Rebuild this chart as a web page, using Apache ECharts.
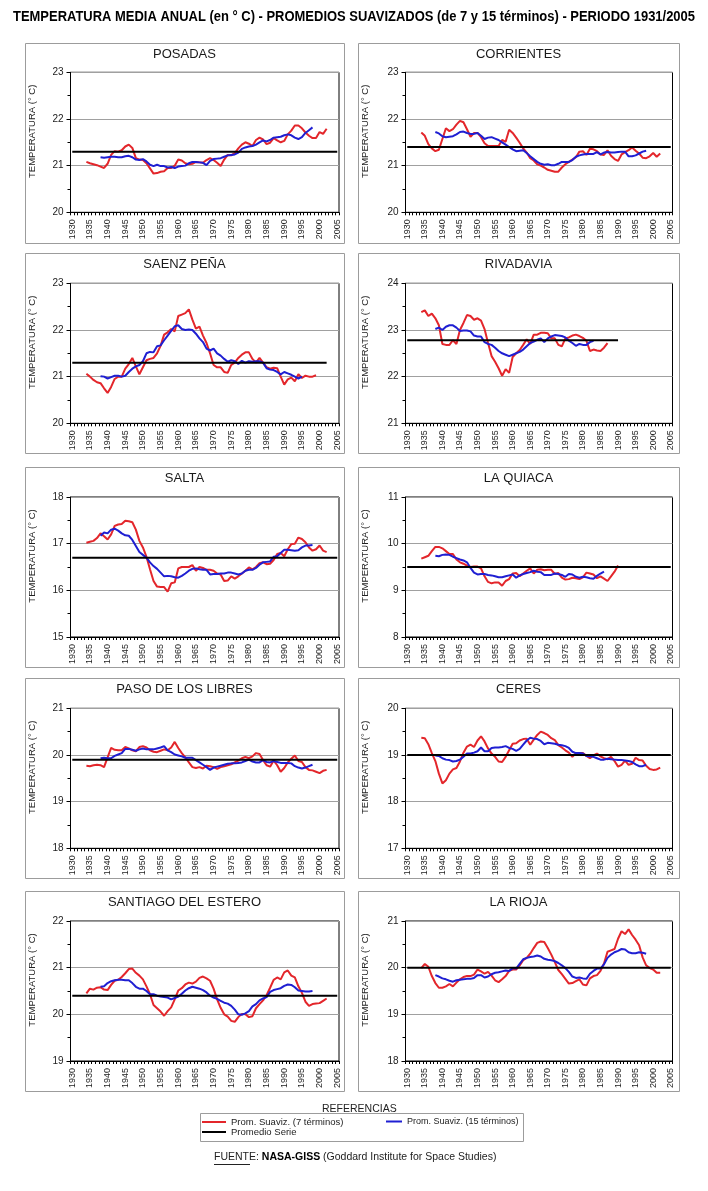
<!DOCTYPE html>
<html><head><meta charset="utf-8">
<script src="https://cdn.jsdelivr.net/npm/echarts@6/dist/echarts.min.js"></script>
<style>html,body{margin:0;padding:0;background:#fff}#c{width:708px;height:1191px}</style>
</head><body><div id="c"></div>
<script>
const years = ['1930','1931','1932','1933','1934','1935','1936','1937','1938','1939','1940','1941','1942','1943','1944','1945','1946','1947','1948','1949','1950','1951','1952','1953','1954','1955','1956','1957','1958','1959','1960','1961','1962','1963','1964','1965','1966','1967','1968','1969','1970','1971','1972','1973','1974','1975','1976','1977','1978','1979','1980','1981','1982','1983','1984','1985','1986','1987','1988','1989','1990','1991','1992','1993','1994','1995','1996','1997','1998','1999','2000','2001','2002','2003','2004','2005'];
const stationNames = ['POSADAS','CORRIENTES','SAENZ PEÑA','RIVADAVIA','SALTA','LA QUIACA','PASO DE LOS LIBRES','CERES','SANTIAGO DEL ESTERO','LA RIOJA'];
const yMin = [20,20,20,21,15,8,18,17,19,18];
const yMax = [23,23,23,24,18,11,21,20,22,21];
const seriesMean = [21.3,21.4,21.3,22.78,16.7,9.5,19.9,19.0,20.4,20.0];
const meanFirstYear = 1930;
const meanLastYear = [2005,2005,2002,1990,2005,2005,2005,2005,2005,2005];
const first7 = 1934, first15 = 1938;
const seriesNames = ['Prom. Suaviz. (7 términos)','Prom. Suaviz. (15 términos)','Promedio Serie'];
const mainTitle = 'TEMPERATURA MEDIA ANUAL (en ° C) - PROMEDIOS SUAVIZADOS (de 7 y 15 términos) - PERIODO 1931/2005';

const posadas7 = [21.08,21.05,21.03,21.01,20.98,20.95,21.04,21.23,21.31,21.30, 21.33,21.41,21.45,21.38,21.16,21.13,21.12,21.05,20.94,20.83, 20.84,20.87,20.88,20.95,20.95,21.00,21.13,21.11,21.05,21.03, 21.04,21.08,21.07,21.06,21.12,21.16,21.12,21.06,20.99,21.13, 21.23,21.22,21.27,21.37,21.45,21.50,21.47,21.42,21.55,21.60, 21.56,21.46,21.49,21.59,21.54,21.50,21.53,21.67,21.75,21.86, 21.86,21.80,21.71,21.64,21.59,21.59,21.72,21.68,21.79];
const posadas15 = [21.18,21.17,21.18,21.19,21.19,21.18,21.18,21.20,21.21,21.18, 21.13,21.12,21.14,21.09,21.02,20.99,21.02,20.99,20.99,20.96, 20.97,20.95,20.98,20.99,21.00,21.05,21.08,21.08,21.07,21.06, 21.01,21.10,21.14,21.15,21.16,21.19,21.22,21.23,21.24,21.28, 21.36,21.39,21.41,21.42,21.45,21.50,21.54,21.52,21.55,21.60, 21.61,21.62,21.65,21.67,21.65,21.60,21.57,21.61,21.70,21.76, 21.82];

const corrientes7 = [21.71,21.64,21.46,21.37,21.31,21.34,21.57,21.80,21.74,21.78, 21.88,21.96,21.93,21.78,21.62,21.70,21.70,21.61,21.48,21.42, 21.42,21.42,21.42,21.55,21.51,21.77,21.70,21.60,21.49,21.37, 21.28,21.16,21.11,21.03,21.00,20.96,20.91,20.89,20.87,20.87, 20.96,21.03,21.08,21.13,21.18,21.30,21.31,21.23,21.36,21.35, 21.31,21.24,21.23,21.33,21.21,21.14,21.10,21.24,21.29,21.33, 21.39,21.32,21.26,21.17,21.16,21.20,21.27,21.19,21.26];
const corrientes15 = [21.72,21.69,21.63,21.61,21.62,21.63,21.67,21.72,21.73,21.70, 21.68,21.68,21.70,21.64,21.57,21.60,21.61,21.58,21.55,21.50, 21.45,21.40,21.35,21.31,21.32,21.33,21.27,21.20,21.14,21.08, 21.04,21.02,21.03,21.01,21.01,21.04,21.08,21.08,21.08,21.12, 21.19,21.22,21.24,21.25,21.25,21.25,21.29,21.24,21.28,21.29, 21.28,21.28,21.29,21.30,21.30,21.20,21.20,21.22,21.26,21.30, 21.32];

const saenz7 = [21.06,21.00,20.93,20.88,20.86,20.75,20.65,20.78,20.95,21.00, 21.00,21.17,21.27,21.40,21.22,21.05,21.20,21.35,21.38,21.40, 21.50,21.66,21.90,21.95,22.02,21.97,22.30,22.33,22.36,22.44, 22.22,22.03,22.07,21.88,21.72,21.50,21.25,21.20,21.20,21.10, 21.08,21.25,21.30,21.40,21.47,21.52,21.52,21.38,21.30,21.40, 21.30,21.20,21.17,21.19,21.18,21.00,20.83,20.94,20.98,20.90, 21.05,20.97,21.02,21.00,21.00,21.03];
const saenz15 = [21.01,21.00,20.96,20.99,21.02,21.02,21.00,21.02,21.10,21.17, 21.22,21.25,21.33,21.50,21.53,21.52,21.65,21.67,21.78,21.88, 21.98,22.08,22.10,22.02,22.00,22.01,22.00,21.92,21.82,21.74, 21.60,21.56,21.60,21.50,21.45,21.38,21.32,21.35,21.33,21.27, 21.34,21.30,21.33,21.32,21.33,21.33,21.30,21.18,21.15,21.14, 21.10,21.05,21.10,21.07,21.04,21.00,20.96,21.00];

const rivadavia7 = [23.38,23.42,23.30,23.35,23.25,23.10,22.70,22.68,22.68,22.78, 22.70,23.00,23.15,23.32,23.30,23.22,23.25,23.20,23.02,22.72, 22.44,22.32,22.18,22.02,22.16,22.08,22.42,22.50,22.57,22.68, 22.80,22.70,22.90,22.90,22.94,22.94,22.93,22.82,22.82,22.68, 22.65,22.82,22.84,22.88,22.90,22.87,22.83,22.77,22.55,22.58, 22.56,22.55,22.62,22.72];
const rivadavia15 = [23.02,23.05,23.00,23.07,23.10,23.10,23.05,22.98,22.99,22.99, 22.97,22.88,22.86,22.86,22.74,22.70,22.68,22.62,22.55,22.50, 22.47,22.44,22.47,22.50,22.53,22.58,22.65,22.72,22.75,22.79, 22.82,22.74,22.82,22.86,22.89,22.88,22.87,22.84,22.77,22.72, 22.66,22.70,22.68,22.68,22.74,22.77];

const salta7 = [17.02,17.04,17.06,17.12,17.22,17.16,17.09,17.20,17.38,17.41, 17.42,17.49,17.48,17.46,17.30,17.06,16.92,16.72,16.45,16.20, 16.08,16.07,16.07,15.97,16.15,16.17,16.47,16.50,16.50,16.50, 16.54,16.42,16.50,16.48,16.44,16.44,16.42,16.36,16.34,16.20, 16.21,16.30,16.25,16.30,16.36,16.42,16.49,16.45,16.50,16.58, 16.60,16.56,16.57,16.65,16.78,16.80,16.73,16.88,16.99,17.00, 17.13,17.10,17.03,16.92,16.85,16.88,16.96,16.85,16.82];
const salta15 = [17.17,17.24,17.22,17.30,17.32,17.28,17.22,17.18,17.17,17.08, 16.95,16.82,16.76,16.70,16.60,16.52,16.46,16.38,16.30,16.31, 16.30,16.28,16.27,16.31,16.36,16.42,16.46,16.47,16.45,16.44, 16.44,16.34,16.35,16.35,16.36,16.36,16.38,16.38,16.36,16.34, 16.36,16.42,16.44,16.44,16.48,16.55,16.60,16.61,16.62,16.72, 16.73,16.80,16.87,16.87,16.86,16.85,16.86,16.92,16.96,16.96, 16.97];

const quiaca7 = [9.68,9.71,9.74,9.84,9.93,9.93,9.90,9.84,9.78,9.78, 9.66,9.60,9.57,9.53,9.50,9.51,9.51,9.47,9.30,9.18, 9.15,9.17,9.17,9.10,9.20,9.24,9.36,9.37,9.30,9.36, 9.42,9.47,9.36,9.44,9.45,9.43,9.44,9.44,9.35,9.37, 9.27,9.23,9.24,9.27,9.26,9.24,9.28,9.38,9.36,9.34, 9.26,9.30,9.25,9.20,9.30,9.40,9.53];
const quiaca15 = [9.74,9.73,9.76,9.77,9.76,9.72,9.69,9.66,9.64,9.60, 9.48,9.38,9.34,9.35,9.35,9.33,9.32,9.30,9.28,9.28, 9.30,9.32,9.34,9.27,9.32,9.35,9.37,9.39,9.42,9.40, 9.39,9.33,9.33,9.33,9.36,9.35,9.33,9.29,9.35,9.34, 9.29,9.27,9.29,9.28,9.26,9.25,9.31,9.36,9.40];

const paso7 = [19.77,19.76,19.78,19.79,19.78,19.74,19.95,20.15,20.11,20.10, 20.10,20.17,20.14,20.10,20.08,20.17,20.19,20.16,20.10,20.07, 20.06,20.09,20.12,20.10,20.16,20.28,20.15,20.04,19.95,19.84, 19.74,19.72,19.74,19.71,19.77,19.76,19.74,19.70,19.74,19.76, 19.78,19.80,19.84,19.88,19.93,19.96,19.93,19.97,20.04,20.02, 19.89,19.78,19.75,19.88,19.78,19.64,19.72,19.84,19.92,19.99, 19.87,19.85,19.74,19.68,19.67,19.64,19.61,19.66,19.68];
const paso15 = [19.93,19.94,19.93,19.93,19.98,20.01,20.04,20.13,20.13,20.11, 20.09,20.12,20.14,20.12,20.12,20.12,20.14,20.16,20.19,20.10, 20.06,20.01,19.99,19.97,19.94,19.94,19.94,19.89,19.84,19.79, 19.74,19.68,19.73,19.75,19.77,19.79,19.81,19.82,19.82,19.83, 19.84,19.87,19.90,19.86,19.84,19.84,19.89,19.85,19.84,19.87, 19.85,19.83,19.83,19.83,19.82,19.76,19.73,19.71,19.73,19.76, 19.79];

const ceres7 = [19.37,19.36,19.23,19.04,18.87,18.60,18.39,18.46,18.60,18.69, 18.72,18.86,19.05,19.18,19.22,19.17,19.31,19.40,19.29,19.14, 19.03,18.96,18.86,18.85,18.96,19.10,19.24,19.25,19.31,19.34, 19.35,19.22,19.33,19.43,19.50,19.47,19.43,19.36,19.32,19.21, 19.16,19.10,19.05,18.96,19.04,19.04,19.04,18.98,18.93,18.99, 19.03,18.97,18.93,18.91,18.96,18.87,18.75,18.79,18.88,18.79, 18.81,18.94,18.89,18.88,18.77,18.70,18.68,18.69,18.73];
const ceres15 = [18.99,18.98,18.93,18.90,18.89,18.86,18.87,18.90,18.96,19.03, 19.03,19.05,19.08,19.16,19.08,19.08,19.15,19.16,19.16,19.17, 19.19,19.15,19.13,19.09,19.13,19.22,19.31,19.37,19.35,19.34, 19.30,19.23,19.26,19.25,19.24,19.22,19.21,19.19,19.15,19.07, 19.04,19.04,19.03,18.98,18.97,18.96,18.93,18.90,18.90,18.92, 18.91,18.90,18.89,18.89,18.88,18.87,18.85,18.80,18.76,18.76, 18.79];

const santiago7 = [20.45,20.55,20.53,20.57,20.58,20.53,20.52,20.63,20.72,20.74, 20.80,20.88,20.97,20.98,20.89,20.83,20.75,20.60,20.43,20.20, 20.13,20.06,19.97,20.07,20.15,20.32,20.51,20.56,20.64,20.68, 20.66,20.70,20.78,20.81,20.77,20.72,20.55,20.32,20.14,20.00, 19.95,19.86,19.84,19.94,20.01,20.00,19.94,19.96,20.13,20.22, 20.30,20.41,20.57,20.74,20.79,20.75,20.90,20.94,20.83,20.79, 20.60,20.46,20.27,20.18,20.22,20.23,20.24,20.29,20.34];
const santiago15 = [20.59,20.60,20.67,20.71,20.73,20.74,20.74,20.73,20.73,20.67, 20.59,20.55,20.55,20.50,20.43,20.43,20.40,20.38,20.37,20.36, 20.32,20.35,20.38,20.44,20.51,20.56,20.59,20.57,20.55,20.52, 20.47,20.40,20.36,20.33,20.29,20.25,20.23,20.18,20.10,20.00, 19.99,20.02,20.07,20.17,20.22,20.30,20.34,20.37,20.48,20.52, 20.54,20.56,20.61,20.64,20.63,20.58,20.51,20.50,20.49,20.49, 20.50];

const rioja7 = [19.99,20.08,20.02,19.82,19.67,19.57,19.57,19.60,19.65,19.60, 19.68,19.75,19.80,19.82,19.82,19.85,19.96,19.92,19.87,19.91, 19.83,19.73,19.69,19.75,19.82,19.93,19.96,19.96,20.05,20.16, 20.21,20.30,20.42,20.53,20.56,20.55,20.42,20.28,20.12,19.95, 19.86,19.76,19.66,19.67,19.71,19.75,19.64,19.62,19.77,19.82, 19.84,19.93,20.09,20.34,20.37,20.40,20.62,20.78,20.72,20.82, 20.70,20.60,20.48,20.22,20.05,19.99,19.96,19.89,19.89];
const rioja15 = [19.84,19.81,19.77,19.75,19.72,19.70,19.73,19.74,19.75,19.76, 19.76,19.78,19.84,19.84,19.79,19.81,19.86,19.89,19.90,19.92, 19.94,19.93,19.99,19.98,20.08,20.18,20.21,20.23,20.24,20.26, 20.24,20.19,20.17,20.16,20.14,20.10,20.05,19.99,19.91,19.81, 19.78,19.79,19.77,19.76,19.87,19.93,19.98,19.98,20.07,20.21, 20.28,20.33,20.36,20.40,20.39,20.33,20.31,20.31,20.33,20.32, 20.30];

const values7 = [posadas7,corrientes7,saenz7,rivadavia7,salta7,quiaca7,paso7,ceres7,santiago7,rioja7];
const values15 = [posadas15,corrientes15,saenz15,rivadavia15,salta15,quiaca15,paso15,ceres15,santiago15,rioja15];

// ---------- layout ----------
const plotLeft = [70.5, 405.5], plotWidth = [268.5, 267];
const plotTop = [72.3, 283.3, 497, 708.3, 921], plotHeight = 140;
const boxLeft = [25, 358], boxWidth = [319, 321];
const boxTop = [43, 253, 467, 678, 891], boxHeight = 200;
const COL_RED = '#e3262b', COL_BLUE = '#1f1fd2', COL_BLACK = '#000';
const FONT = 'Arial, "Liberation Sans", sans-serif';

function textWidth(text, font) {
  const ctx = document.createElement('canvas').getContext('2d');
  ctx.font = font;
  return ctx.measureText(text).width;
}

function padSeries(firstYear, arr) {
  const out = years.map(() => null);
  const off = firstYear - +years[0];
  arr.forEach((v, i) => { out[off + i] = v; });
  return out;
}
function meanSeries(v, last) {
  return years.map(y => (+y >= meanFirstYear && +y <= last) ? v : null);
}

const grid = [], xAxis = [], yAxis = [], series = [], title = [], graphic = [];
stationNames.forEach((name, i) => {
  const c = i % 2, r = Math.floor(i / 2);
  graphic.push({type:'rect', shape:{x:boxLeft[c]+0.5, y:boxTop[r]+0.5, width:boxWidth[c], height:boxHeight},
    style:{fill:'none', stroke:'#9c9c9c', lineWidth:1}, z:-1});
  title.push({text:name, left:boxLeft[c]+boxWidth[c]/2, top:boxTop[r]+5, textAlign:'center', padding:0,
    textStyle:{fontFamily:FONT, fontSize:13, fontWeight:'normal', color:'#1a1a1a'}});
  grid.push({left:plotLeft[c], top:plotTop[r], width:plotWidth[c], height:plotHeight,
    show:true, borderColor:'#000', borderWidth:1, backgroundColor:'#fff'});
  xAxis.push({type:'category', gridIndex:i, data:years, boundaryGap:true,
    axisLine:{lineStyle:{color:'#000', width:1}},
    axisTick:{show:true, interval:0, length:3, lineStyle:{color:'#000'}},
    axisLabel:{interval:4, rotate:90, fontSize:9, color:'#222', margin:7, fontFamily:FONT},
    splitLine:{show:false}});
  yAxis.push({type:'value', gridIndex:i, min:yMin[i], max:yMax[i], interval:1,
    axisLine:{show:true, lineStyle:{color:'#000', width:1}},
    axisTick:{show:true, length:4, lineStyle:{color:'#000'}},
    minorTick:{show:true, splitNumber:2, length:3, lineStyle:{color:'#000'}},
    splitLine:{show:true, lineStyle:{color:'#a0a0a0', width:1}},
    axisLabel:{fontSize:10, color:'#222', margin:7, fontFamily:FONT},
    name:'TEMPERATURA (° C)', nameLocation:'middle', nameGap: c === 0 ? 33 : 35,
    nameTextStyle:{fontSize:9.5, color:'#222', fontFamily:FONT, padding:[0,0,0,22]}});
  series.push({type:'line', name:seriesNames[0], xAxisIndex:i, yAxisIndex:i, data:padSeries(first7, values7[i]),
    showSymbol:false, symbol:'none', lineStyle:{color:COL_RED, width:2}, itemStyle:{color:COL_RED}, animation:false});
  series.push({type:'line', name:seriesNames[1], xAxisIndex:i, yAxisIndex:i, data:padSeries(first15, values15[i]),
    showSymbol:false, symbol:'none', lineStyle:{color:COL_BLUE, width:2}, itemStyle:{color:COL_BLUE}, animation:false});
  series.push({type:'line', name:seriesNames[2], xAxisIndex:i, yAxisIndex:i, data:meanSeries(seriesMean[i], meanLastYear[i]),
    showSymbol:false, symbol:'none', lineStyle:{color:COL_BLACK, width:2}, itemStyle:{color:COL_BLACK}, animation:false});
});

// main title, condensed horizontally to the reference width
const titleFont = 'bold 14px Arial, "Liberation Sans", sans-serif';
const titleScale = 682 / textWidth(mainTitle, titleFont);
graphic.push({type:'text', x:354, y:17, scaleX:titleScale, scaleY:1,
  style:{text:mainTitle, fontSize:14, fontWeight:'bold', fontFamily:FONT, fill:'#000', align:'center', verticalAlign:'middle'}});

// legend area
graphic.push({type:'text', left:322, top:1104, style:{text:'REFERENCIAS', fontSize:10.5, fontFamily:FONT, fill:'#222'}});
graphic.push({type:'rect', shape:{x:200.5, y:1113.5, width:323, height:28}, style:{fill:'none', stroke:'#9c9c9c', lineWidth:1}});
graphic.push({type:'text', left:214, top:1152, style:{
  text:'{u|FUENTE}{n|: }{b|NASA-GISS}{n| (Goddard Institute for Space Studies)}',
  rich:{u:{fontSize:10.5, fontFamily:FONT, fill:'#222'}, n:{fontSize:10.5, fontFamily:FONT, fill:'#222'},
        b:{fontSize:10.5, fontFamily:FONT, fontWeight:'bold', fill:'#000'}}}});
graphic.push({type:'line', shape:{x1:214, y1:1164.5, x2:250, y2:1164.5}, style:{stroke:'#222', lineWidth:1}});

const legendText = {fontSize:9.5, fontFamily:FONT, color:'#222'};
const option = {
  animation:false,
  backgroundColor:'#fff',
  title, grid, xAxis, yAxis, series, graphic,
  legend:[
    {data:[seriesNames[0]], left:202, top:1117, itemWidth:24, itemHeight:2, icon:'rect', padding:0, itemGap:0,
     selectedMode:false, textStyle:legendText},
    {data:[seriesNames[1]], left:386, top:1117, itemWidth:16, itemHeight:2, icon:'rect', padding:0, itemGap:0,
     selectedMode:false, textStyle:{fontSize:9, fontFamily:FONT, color:'#222'}},
    {data:[seriesNames[2]], left:202, top:1127, itemWidth:24, itemHeight:2, icon:'rect', padding:0, itemGap:0,
     selectedMode:false, textStyle:legendText}
  ]
};
const chart = echarts.init(document.getElementById('c'), null, {renderer:'canvas'});
chart.setOption(option);
</script></body></html>
